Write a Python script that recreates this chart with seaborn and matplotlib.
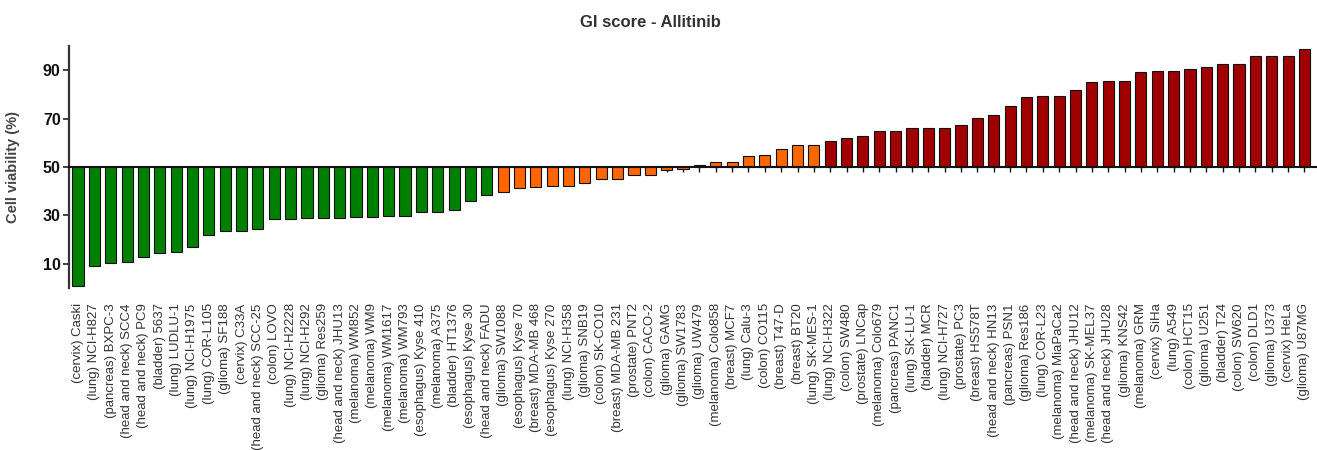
import matplotlib
matplotlib.use("Agg")
import matplotlib.pyplot as plt
import seaborn as sns
import numpy as np
import pandas as pd

cell_lines = [
    "(cervix) Caski", "(lung) NCI-H827", "(pancreas) BXPC-3", "(head and neck) SCC4",
    "(head and neck) PC9", "(bladder) 5637", "(lung) LUDLU-1", "(lung) NCI-H1975",
    "(lung) COR-L105", "(glioma) SF188", "(cervix) C33A", "(head and neck) SCC-25",
    "(colon) LOVO", "(lung) NCI-H2228", "(lung) NCI-H292", "(glioma) Res259",
    "(head and neck) JHU13", "(melanoma) WM852", "(melanoma) WM9", "(melanoma) WM1617",
    "(melanoma) WM793", "(esophagus) Kyse 410", "(melanoma) A375", "(bladder) HT1376",
    "(esophagus) Kyse 30", "(head and neck) FADU", "(glioma) SW1088", "(esophagus) Kyse 70",
    "(breast) MDA-MB 468", "(esophagus) Kyse 270", "(lung) NCI-H358", "(glioma) SNB19",
    "(colon) SK-CO10", "(breast) MDA-MB 231", "(prostate) PNT2", "(colon) CACO-2",
    "(glioma) GAMG", "(glioma) SW1783", "(glioma) UW479", "(melanoma) Colo858",
    "(breast) MCF7", "(lung) Calu-3", "(colon) CO115", "(breast) T47-D",
    "(breast) BT20", "(lung) SK-MES-1", "(lung) NCI-H322", "(colon) SW480",
    "(prostate) LNCap", "(melanoma) Colo679", "(pancreas) PANC1", "(lung) SK-LU-1",
    "(bladder) MCR", "(lung) NCI-H727", "(prostate) PC3", "(breast) HS578T",
    "(head and neck) HN13", "(pancreas) PSN1", "(glioma) Res186", "(lung) COR-L23",
    "(melanoma) MiaPaCa2", "(head and neck) JHU12", "(melanoma) SK-MEL37", "(head and neck) JHU28",
    "(glioma) KNS42", "(melanoma) GRM", "(cervix) SiHa", "(lung) A549",
    "(colon) HCT15", "(glioma) U251", "(bladder) T24", "(colon) SW620",
    "(colon) DLD1", "(glioma) U373", "(cervix) HeLa", "(glioma) U87MG",
]

viability = [
    1.0, 9.1, 10.2, 10.8, 12.7, 14.6, 15.0, 17.1, 22.0, 23.7,
    23.7, 24.2, 28.5, 28.5, 28.9, 28.9, 28.9, 29.4, 29.4, 29.8,
    29.8, 31.5, 31.5, 32.4, 35.9, 38.4, 39.7, 41.4, 41.8, 42.3,
    42.3, 43.4, 44.9, 44.9, 46.6, 46.6, 48.6, 49.0, 50.6, 51.9,
    51.9, 54.4, 54.9, 57.3, 59.2, 59.2, 60.7, 61.9, 62.9, 64.8,
    64.8, 65.9, 65.9, 65.9, 67.4, 70.4, 71.4, 75.3, 78.8, 79.2,
    79.2, 81.7, 84.9, 85.7, 85.7, 89.4, 89.8, 89.8, 90.3, 91.3,
    92.4, 92.4, 95.7, 95.7, 95.7, 98.7,
]

groups = ["sensitive"] * 26 + ["intermediate"] * 20 + ["resistant"] * 30
palette = {"sensitive": "#008000", "intermediate": "#FF6600", "resistant": "#A00000"}

yticks = [10, 30, 50, 70, 90]
baseline = 50

sns.set_theme(style="ticks")
plt.rcParams["font.family"] = ["Liberation Sans", "DejaVu Sans"]

fig = plt.figure(figsize=(13.17, 4.5), dpi=100)
ax = fig.add_axes([0.0524, 0.36, 0.948, 0.538])

df = pd.DataFrame({
    "line": cell_lines,
    "delta": np.array(viability) - baseline,
    "group": groups,
})

sns.barplot(data=df, x="line", y="delta", hue="group", palette=palette,
            dodge=False, legend=False, bottom=baseline, width=0.68, saturation=1,
            edgecolor="#111111", linewidth=0.8, errorbar=None, ax=ax)

ax.set_ylim(0, 100)
ax.set_xlim(-0.55, len(cell_lines) - 0.2)

for s in ["top", "right"]:
    ax.spines[s].set_visible(False)
ax.spines["bottom"].set_position(("data", baseline))
ax.spines["bottom"].set_linewidth(1.5)
ax.spines["bottom"].set_color("#111111")
ax.spines["left"].set_linewidth(1.6)
ax.spines["left"].set_color("#333333")

ax.tick_params(axis="x", bottom=True, length=3.5, width=1.0, direction="out",
               labelbottom=False, color="#111111")
ax.set_xlabel("")

ax.set_yticks(yticks)
ax.set_yticklabels([str(t) for t in yticks], fontsize=11.5, fontweight="bold", color="#111111")
ax.tick_params(axis="y", left=True, length=4, width=1.3, direction="out", color="#333333", pad=2)
ax.set_ylabel("Cell viability (%)", fontsize=10.5, fontweight="bold", color="#444444")
ax.yaxis.set_label_coords(-0.039, 0.5)

sec = ax.secondary_xaxis("bottom")
sec.set_xticks(range(len(cell_lines)))
sec.set_xticklabels(cell_lines, rotation=90, fontsize=9.5, color="#333333")
sec.tick_params(length=0, pad=11)
sec.spines["bottom"].set_visible(False)

fig.text(0.494, 0.951, "GI score - Allitinib", ha="center", va="center",
         fontsize=12, fontweight="bold", color="#333333")

fig.savefig("out.png", dpi=100, facecolor="white")
